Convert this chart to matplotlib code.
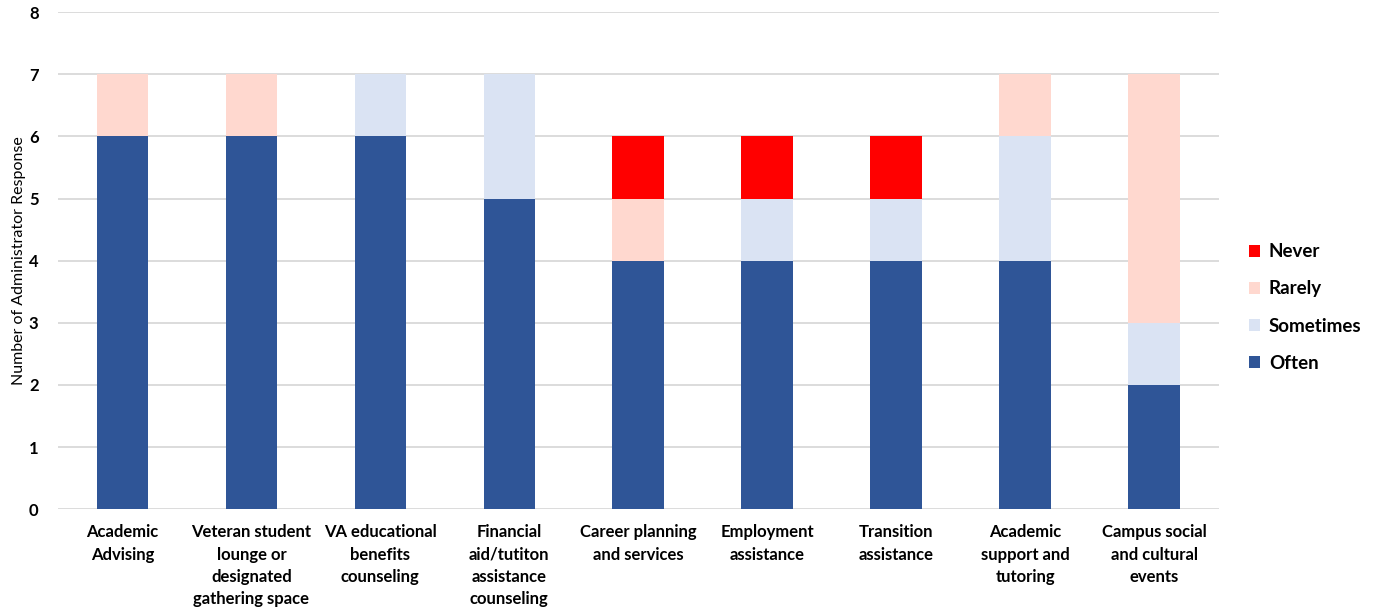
import matplotlib
matplotlib.use("Agg")
import matplotlib.pyplot as plt
import numpy as np
from matplotlib.patches import Patch

categories = [
    "Academic\nAdvising",
    "Veteran student\nlounge or\ndesignated\ngathering space",
    "VA educational\nbenefits\ncounseling",
    "Financial\naid/tutiton\nassistance\ncounseling",
    "Career planning\nand services",
    "Employment\nassistance",
    "Transition\nassistance",
    "Academic\nsupport and\ntutoring",
    "Campus social\nand cultural\nevents",
]
often = [6, 6, 6, 5, 4, 4, 4, 4, 2]
sometimes = [0, 0, 1, 2, 0, 1, 1, 2, 1]
rarely = [1, 1, 0, 0, 1, 0, 0, 1, 4]
never = [0, 0, 0, 0, 1, 1, 1, 0, 0]

series = [
    ("Often", often, "#2F5597"),
    ("Sometimes", sometimes, "#DAE3F3"),
    ("Rarely", rarely, "#FFD8CF"),
    ("Never", never, "#FF0000"),
]

plt.rcParams["font.family"] = ["Lato", "DejaVu Sans"]

fig = plt.figure(figsize=(13.8, 6.09), dpi=100)
ax = fig.add_axes([0.042, 0.164, 0.841, 0.816])

x = np.arange(len(categories))
bottom = np.zeros(len(categories))
for name, vals, color in series:
    ax.bar(x, vals, width=0.4, bottom=bottom, color=color, label=name, zorder=2)
    bottom += np.array(vals)

ax.set_xlim(-0.5, len(categories) - 0.5)
ax.set_ylim(0, 8)
ax.set_yticks(range(0, 9))
ax.yaxis.grid(True, color="#D9D9D9", linewidth=1.3, zorder=0)
ax.set_axisbelow(True)
for s in ax.spines.values():
    s.set_visible(False)
ax.tick_params(axis="both", length=0)
ax.tick_params(axis="y", pad=14)
ax.tick_params(axis="x", pad=11)
ax.set_xticks(x)
ax.set_xticklabels(categories, fontsize=12, fontweight="bold", linespacing=1.47)
for lbl in ax.get_yticklabels():
    lbl.set_fontsize(12)
    lbl.set_fontweight("bold")
ax.set_ylabel("Number of Administrator Response", fontsize=11.5, labelpad=2)

handles = [Patch(facecolor=c, label=n) for n, _, c in reversed(series)]
fig.legend(handles=handles, loc="center left", bbox_to_anchor=(0.893, 0.495),
           frameon=False, prop={"size": 13.5, "weight": "bold"},
           handlelength=0.6, handleheight=0.6, handletextpad=0.45, labelspacing=1.08)

fig.savefig("out.png", dpi=100)
